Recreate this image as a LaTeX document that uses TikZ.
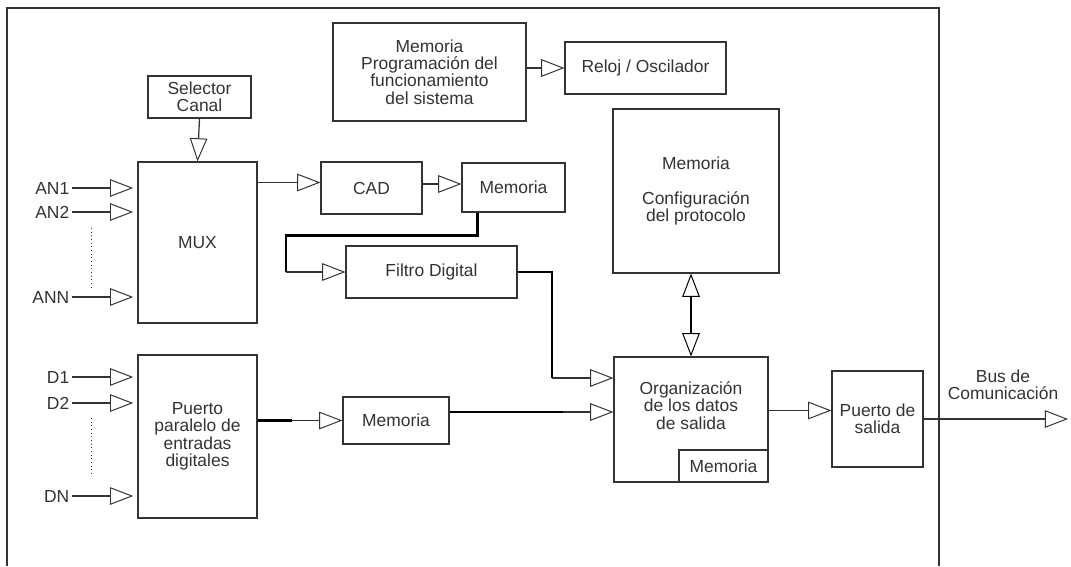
\documentclass[tikz,border=0pt]{standalone}
\usepackage{fontspec}
\setmainfont{Liberation Sans}
\usetikzlibrary{arrows.meta,calc}

\tikzset{
  box/.style={draw, line width=0.8pt, align=center, inner sep=0pt,
    font=\fontsize{12.4}{12.4}\selectfont},
  lbl/.style={inner sep=1.5pt, align=center, font=\fontsize{12.4}{12.4}\selectfont},
  heavy/.style={line width=1.7pt, color=black},
}

\begin{document}
\begin{tikzpicture}[x=0.025cm, y=-0.025cm, line width=0.9pt, color=black!80,
  >={Triangle[open, length=16.5pt, width=12.5pt, line width=0.7pt]}]
  \useasboundingbox (0,0) rectangle (1071,566);

  % Frame
  \draw[line width=1pt] (7,566) -- (7,8) -- (939,8) -- (939,566);

  % Top blocks
  \node[box, minimum width=4.825cm, minimum height=2.45cm] (prog) at (429.5,72)
    {Memoria\\Programación del\\funcionamiento\\del sistema};
  \node[box, minimum width=4.025cm, minimum height=1.3cm] (reloj) at (645.5,68) {Reloj / Oscilador};
  \draw[->] (prog.east |- reloj.west) -- (reloj.west);

  % Analog inputs
  \node[box, minimum width=2.575cm, minimum height=1.05cm] (sel) at (199.5,97) {Selector\\Canal};
  \node[box, minimum width=2.975cm, minimum height=4.025cm] (mux) at (197.5,242.5) {MUX};
  \draw[->] (sel.south) -- (mux.north);
  \node[lbl, anchor=east] (an1) at (72,188) {AN1};
  \node[lbl, anchor=east] (an2) at (72,212) {AN2};
  \node[lbl, anchor=east] (ann) at (72,297) {ANN};
  \foreach \n in {an1,an2,ann}
    \draw[->, shorten >=3pt] (\n) -- (mux.west |- \n);
  \draw[dotted, line width=0.6pt] (91,228) -- (91,287);

  % CAD and filter chain
  \node[box, minimum width=2.525cm, minimum height=1.3cm] (cad) at (371.5,188) {CAD};
  \node[box, minimum width=2.575cm, minimum height=1.225cm] (mem1) at (513.5,187.5) {Memoria};
  \node[box, minimum width=4.275cm, minimum height=1.3cm] (filtro) at (431.5,272) {Filtro Digital};
  \draw[->] ($(mux.east)+(0,-60)$) coordinate (m1) -- (cad.west |- m1);
  \draw[->] ($(cad.east)+(0,-4)$) coordinate (c1) -- (mem1.west |- c1);
  \coordinate (k1) at (286,272);
  \draw[heavy] ($(mem1.south west)+(16,0)$) -- ++(0,23) -| (k1);
  \draw[->] (k1) -- (filtro.west);

  % Protocol memory and output organisation
  \node[box, minimum width=4.15cm, minimum height=4.1cm] (conf) at (696,191)
    {Memoria\\[12.4pt]Configuración\\del protocolo};
  \node[box, minimum width=3.85cm, minimum height=3.125cm] (org) at (691,419.5)
    {Organización\\de los datos\\de salida\\[8pt]};
  \node[box, anchor=south east, minimum width=2.225cm, minimum height=0.8cm] (orgmem)
    at (org.south east) {Memoria};
  \draw[heavy, <->] (org.north |- conf.south) -- (org.north);

  \coordinate (k2) at (552,378);
  \draw[heavy] (filtro.east) -| (k2);
  \draw[->] (k2) -- (org.west |- k2);

  % Digital inputs
  \node[box, minimum width=2.975cm, minimum height=4.075cm] (ppar) at (197.5,436.5)
    {Puerto\\paralelo de\\entradas\\digitales};
  \node[lbl, anchor=east] (d1) at (72,377) {D1};
  \node[lbl, anchor=east] (d2) at (72,403) {D2};
  \node[lbl, anchor=east] (dn) at (72,496) {DN};
  \foreach \n in {d1,d2,dn}
    \draw[->, shorten >=3pt] (\n) -- (ppar.west |- \n);
  \draw[dotted, line width=0.6pt] (91,418) -- (91,476);

  \node[box, minimum width=2.65cm, minimum height=1.175cm] (mem2) at (396,420.5) {Memoria};
  \coordinate (k3) at (292,420.5);
  \draw[heavy] (ppar.east |- k3) -- (k3);
  \draw[->] (k3) -- (mem2.west);
  \coordinate (k4) at (563,412);
  \draw[heavy] (mem2.east |- k4) -- (k4);
  \draw[->] (k4) -- (org.west |- k4);

  % Output port
  \node[box, minimum width=2.275cm, minimum height=2.4cm] (pout) at (877.5,419) {Puerto de\\salida};
  \draw[->] ($(org.east)+(0,-9)$) coordinate (o1) -- (pout.west |- o1);
  \coordinate (busend) at (1068,419);
  \draw[->] (pout.east) -- (busend);
  \node[lbl] (buslbl) at (1003,385) {Bus de\\Comunicación};
\end{tikzpicture}
\end{document}
